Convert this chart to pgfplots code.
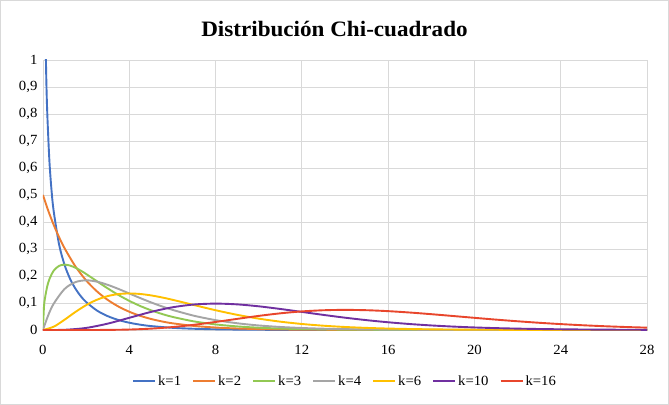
\documentclass[border=0pt]{standalone}
\usepackage{pgfplots}
\pgfplotsset{compat=1.18}
\usepackage{fontspec}
\setmainfont{Liberation Serif}[FakeStretch=1.05]
\definecolor{c1}{HTML}{4472C4}
\definecolor{c2}{HTML}{ED7D31}
\definecolor{c3}{HTML}{92C853}
\definecolor{c4}{HTML}{A5A5A5}
\definecolor{c6}{HTML}{FFC000}
\definecolor{c10}{HTML}{7030A0}
\definecolor{c16}{HTML}{E8462C}
\definecolor{gridc}{HTML}{D9D9D9}
\begin{document}
\begin{tikzpicture}[x=1pt,y=1pt]
\draw[gridc, line width=0.8pt, fill=white] (0.5,0.5) rectangle (668.5,404.5);
\node[font=\fontsize{22}{26}\selectfont\bfseries] at (334.5,376) {Distribución Chi-cuadrado};
\begin{axis}[
  at={(43pt,75pt)}, anchor=south west,
  scale only axis, width=604pt, height=270pt,
  xmin=0, xmax=28, ymin=0, ymax=1,
  xtick={0,4,8,12,16,20,24,28},
  ytick={0,0.1,0.2,0.3,0.4,0.5,0.6,0.7,0.8,0.9,1},
  yticklabels={0,{0,1},{0,2},{0,3},{0,4},{0,5},{0,6},{0,7},{0,8},{0,9},1},
  /pgf/number format/assume math mode=true,
  tick label style={font=\fontsize{14}{16}\selectfont},
  xtick style={draw=none}, ytick style={draw=none},
  xticklabel style={yshift=-12pt},
  yticklabel style={xshift=-2pt},
  grid=major, grid style={gridc, line width=0.8pt},
  axis line style={draw=none},
  clip=true,
  legend columns=7,
  legend style={at={(0.5,-0.189)}, anchor=center, draw=none, fill=none,
    font=\fontsize{14}{16}\selectfont,
    /tikz/every even column/.append style={column sep=9pt}},
  legend image code/.code={\draw[#1, line width=2pt] (0pt,0pt) -- (22pt,0pt);},
  every axis plot/.append style={line width=1.9pt, smooth, line join=round},
]
\addplot[c1] coordinates {(0.1,1.2000)(0.15,0.9556)(0.2,0.8072)(0.3,0.6269)(0.4,0.5164)(0.5,0.4394)(0.75,0.3166)(1,0.2420)(1.25,0.1910)(1.5,0.1539)(1.75,0.1257)(2,0.1038)(2.5,0.07229)(3,0.05139)(3.5,0.03705)(4,0.02700)(4.5,0.01982)(5,0.01465)(6,0.008109)(7,0.004553)(8,0.002583)(9,0.001477)(10,0.000850)(12,0.000285)(14,0.0000972)(16,0.0000335)(20,0.000004)(24,0)(28,0)};
\addlegendentry{k=1}
\addplot[c2] coordinates {(0,0.5)(0.25,0.4412)(0.5,0.3894)(0.75,0.3436)(1,0.3033)(1.5,0.2362)(2,0.1839)(2.5,0.1433)(3,0.1116)(3.5,0.08689)(4,0.06767)(4.5,0.0527)(5,0.04104)(5.5,0.03196)(6,0.02489)(7,0.01510)(8,0.009158)(9,0.005554)(10,0.003369)(11,0.002043)(12,0.001239)(14,0.000456)(16,0.000168)(18,0.0000617)(20,0.0000227)(24,0.0000031)(28,0)};
\addlegendentry{k=2}
\addplot[c3] coordinates {(0,0)(0.05,0.0870)(0.1,0.1200)(0.2,0.16143)(0.3,0.18807)(0.5,0.21970)(0.75,0.23745)(1,0.24197)(1.25,0.23874)(1.5,0.23080)(1.75,0.22000)(2,0.20755)(2.5,0.18072)(3,0.15418)(3.5,0.12969)(4,0.10798)(4.5,0.08920)(5,0.07322)(5.5,0.05981)(6,0.04865)(7,0.03187)(8,0.02067)(9,0.01330)(10,0.00850)(11,0.005408)(12,0.003426)(14,0.001361)(16,0.000535)(18,0.000209)(20,0.000081)(24,0.000012)(28,0.0000018)};
\addlegendentry{k=3}
\addplot[c4] coordinates {(0,0)(0.25,0.05516)(0.5,0.09735)(1,0.15163)(1.5,0.17714)(2,0.18394)(2.5,0.17906)(3,0.16735)(3.5,0.15205)(4,0.13534)(4.5,0.11858)(5,0.10261)(5.5,0.08790)(6,0.07468)(7,0.05284)(8,0.03663)(9,0.02500)(10,0.01684)(11,0.01124)(12,0.00744)(13,0.00489)(14,0.00319)(16,0.00134)(18,0.000555)(20,0.000227)(22,0.0000919)(24,0.0000369)(28,0.0000058)};
\addlegendentry{k=4}
\addplot[c6] coordinates {(0,0)(0.5,0.01217)(1,0.03791)(1.5,0.06643)(2,0.09197)(2.5,0.11191)(3,0.12551)(3.5,0.13305)(4,0.13534)(4.5,0.13340)(5,0.12826)(5.5,0.12086)(6,0.11202)(7,0.09248)(8,0.07326)(9,0.05624)(10,0.04211)(11,0.03091)(12,0.02231)(13,0.01588)(14,0.01117)(15,0.00778)(16,0.00537)(17,0.00368)(18,0.00250)(19,0.00169)(20,0.001135)(22,0.000505)(24,0.000221)(26,0.0000955)(28,0.0000407)};
\addlegendentry{k=6}
\addplot[c10] coordinates {(0,0)(1,0.00079)(2,0.00766)(3,0.02353)(4,0.04511)(5,0.06680)(6,0.08402)(7,0.09440)(8,0.09769)(9,0.09490)(10,0.08773)(11,0.07791)(12,0.06693)(13,0.05591)(14,0.04561)(15,0.03646)(16,0.02863)(17,0.02213)(18,0.01687)(19,0.01270)(20,0.00946)(21,0.00697)(22,0.00509)(23,0.00369)(24,0.00265)(25,0.00190)(26,0.00134)(27,0.00095)(28,0.00067)};
\addlegendentry{k=10}
\addplot[c16] coordinates {(0,0)(1,0.0000005)(2,0.0000365)(3,0.000378)(4,0.001719)(5,0.004970)(6,0.01080)(7,0.01927)(8,0.02977)(9,0.04118)(10,0.05222)(11,0.06173)(12,0.06884)(13,0.07312)(14,0.07450)(15,0.07324)(16,0.06979)(17,0.06471)(18,0.05856)(19,0.05186)(20,0.04504)(21,0.03844)(22,0.03229)(23,0.02673)(24,0.02184)(25,0.01763)(26,0.01407)(27,0.01112)(28,0.00870)};
\addlegendentry{k=16}
\end{axis}
\end{tikzpicture}
\end{document}
